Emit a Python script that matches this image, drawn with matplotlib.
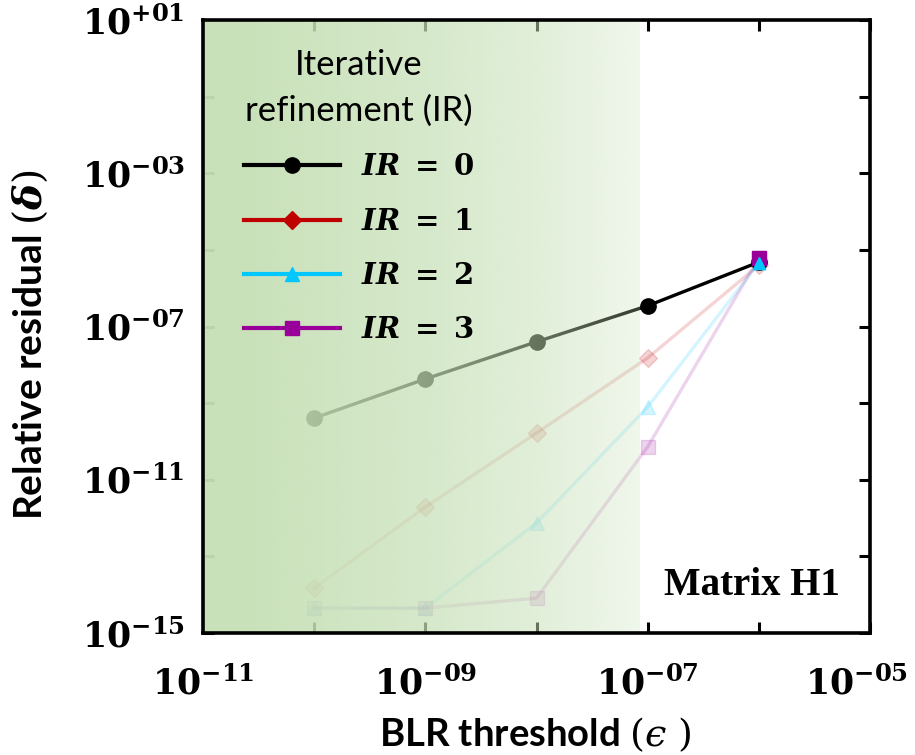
import matplotlib
matplotlib.use('Agg')
import matplotlib.pyplot as plt
import matplotlib.transforms as mtransforms
import numpy as np
from matplotlib.ticker import FixedLocator, FixedFormatter, NullFormatter

plt.rcParams['mathtext.fontset'] = 'dejavuserif'

# ---------------------------------------------------------------------------
# data
# ---------------------------------------------------------------------------
eps = [1e-10, 1e-9, 1e-8, 1e-7, 1e-6]
ir0 = [4.07e-10, 4.27e-9, 3.98e-8, 3.47e-7, 4.79e-6]
ir1 = [1.48e-14, 1.95e-12, 1.66e-10, 1.51e-8, 3.98e-6]
ir2 = [4.47e-15, 4.47e-15, 7.41e-13, 7.94e-10, 4.57e-6]
ir3 = [4.47e-15, 4.47e-15, 8.13e-15, 7.24e-11, 6.17e-6]
labels = ['0', '1', '2', '3']

x_major = [1e-11, 1e-9, 1e-7, 1e-5]
x_major_lbl = ['-11', '-09', '-07', '-05']
x_minor = [1e-10, 1e-8, 1e-6]
y_major = [1e1, 1e-3, 1e-7, 1e-11, 1e-15]
y_major_lbl = ['+01', '-03', '-07', '-11', '-15']
y_minor = [1e-1, 1e-5, 1e-9, 1e-13]

# ---------------------------------------------------------------------------
fig = plt.figure(figsize=(9.15, 7.55), dpi=100)
ax = fig.add_axes([203 / 915, 1 - 633 / 755, 667 / 915, 613 / 755])
ax.set_xscale('log')
ax.set_yscale('log')
ax.set_xlim(1e-11, 1e-5)
ax.set_ylim(1e-15, 1e1)

# faded series (IR = 1..3)
styles = [('#C00000', 'D', 9), ('#00C8FF', '^', 10), ('#990099', 's', 10)]
for ys, (c, m, ms) in zip([ir1, ir2, ir3], styles):
    ax.plot(eps, ys, color=c, marker=m, markersize=ms, lw=2.4, alpha=0.17, zorder=2)

# highlighted IR = 0
ax.plot(eps, ir0, color='black', marker='o', markersize=11, lw=2.4, zorder=2.2)
# solid end markers
ax.plot(eps[-1], ir3[-1], color='#990099', marker='s', markersize=10, ls='none', zorder=2.3)
ax.plot(eps[-1], ir2[-1], color='#00C8FF', marker='^', markersize=9, ls='none', zorder=2.4)

# legend handles (solid)
handles = []
for lab, (c, m, ms) in zip(labels, [('black', 'o', 11)] + styles):
    h, = ax.plot([], [], color=c, marker=m, markersize=ms, lw=3,
                 label=r'$\boldsymbol{IR}\ \mathbf{=\ %s}$' % lab)
    handles.append(h)

# green gradient overlay on the left part
f_end = 0.655
n = 400
fx = np.linspace(0, f_end, n)
alpha = np.interp(fx, [0, 0.07, 0.166, 0.333, 0.5, f_end],
                  [0.95, 0.95, 0.86, 0.72, 0.52, 0.27])
rgba = np.zeros((1, n, 4))
rgba[0, :, 0] = 198 / 255
rgba[0, :, 1] = 224 / 255
rgba[0, :, 2] = 182 / 255
rgba[0, :, 3] = alpha
ax.imshow(rgba, extent=(0, f_end, 0, 1), transform=ax.transAxes,
          aspect='auto', zorder=3, interpolation='bilinear')

# ticks
ax.xaxis.set_major_locator(FixedLocator(x_major))
ax.xaxis.set_major_formatter(FixedFormatter(
    [r'$\mathbf{10^{%s}}$' % s for s in x_major_lbl]))
ax.xaxis.set_minor_locator(FixedLocator(x_minor))
ax.xaxis.set_minor_formatter(NullFormatter())
ax.yaxis.set_major_locator(FixedLocator(y_major))
ax.yaxis.set_major_formatter(FixedFormatter(
    [r'$\mathbf{10^{%s}}$' % s for s in y_major_lbl]))
ax.yaxis.set_minor_locator(FixedLocator(y_minor))
ax.yaxis.set_minor_formatter(NullFormatter())
ax.tick_params(which='both', direction='in', length=8, width=2.2,
               top=True, right=True, labelsize=25)
ax.tick_params(axis='x', which='major', pad=24)
ax.tick_params(axis='y', which='major', pad=13)
for sp in ax.spines.values():
    sp.set_linewidth(2.6)
    sp.set_zorder(5)

ax.set_xlabel('BLR threshold $(\u03f5\\ )$', fontsize=27.5, fontweight='bold',
              family='Lato', va='center')
ax.set_ylabel(r'Relative residual $(\boldsymbol{\delta})$', fontsize=28,
              fontweight='bold', family='Lato', va='center')
ax.xaxis.set_label_coords(0.498, -0.166)
ax.yaxis.set_label_coords(-0.259, 0.47)

leg = ax.legend(handles=handles, loc='upper left', bbox_to_anchor=(0.035, 0.982),
                frameon=False, fontsize=21, title='Iterative\nrefinement (IR)',
                title_fontproperties={'family': 'Lato', 'size': 25},
                handlelength=3.3, handletextpad=0.7, labelspacing=0.9,
                alignment='center', borderaxespad=0.2)
leg.get_title().set_multialignment('center')
leg.get_title().set_linespacing(1.55)
leg.set_zorder(6)

ax.text(0.955, 0.077, 'Matrix H1', transform=ax.transAxes, ha='right', va='center',
        fontsize=28, fontweight='bold', family='Liberation Serif', zorder=6)

# pull the last x tick label a little left so it stays inside the figure
fig.canvas.draw()
last = ax.xaxis.get_major_ticks()[-1].label1
last.set_transform(last.get_transform() +
                   mtransforms.ScaledTranslation(-0.13, 0, fig.dpi_scale_trans))

plt.savefig('out.png', dpi=100, facecolor='white')
